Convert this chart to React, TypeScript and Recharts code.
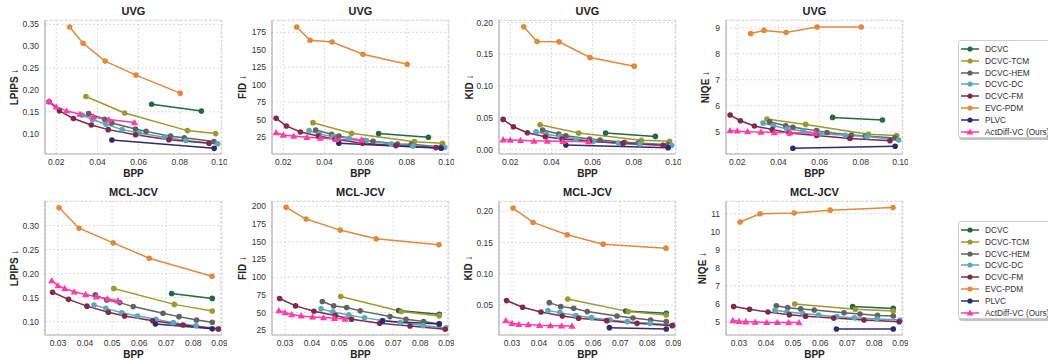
import { LineChart, Line, XAxis, YAxis, CartesianGrid } from "recharts"

const methods = ["DCVC", "DCVC-TCM", "DCVC-HEM", "DCVC-DC", "DCVC-FM", "EVC-PDM", "PLVC", "ActDiff-VC (Ours)"]
const colors = ["#23683f", "#9b9a30", "#626262", "#5ea6b9", "#7e2a4c", "#e08a3e", "#2f2b6b", "#ff3ca8"]

// bpp per method (same order as methods)
const uvgBpp = [
  [0.0663, 0.0905],
  [0.0344, 0.0532, 0.0837, 0.0974],
  [0.0357, 0.0435, 0.047, 0.0585, 0.0636, 0.0755, 0.0822, 0.0966],
  [0.0325, 0.0376, 0.0441, 0.052, 0.0603, 0.0725, 0.083, 0.0984],
  [0.0165, 0.0215, 0.0283, 0.037, 0.0452, 0.0585, 0.0747, 0.0942],
  [0.0265, 0.033, 0.0437, 0.0587, 0.0802],
  [0.047, 0.0967],
  [0.0165, 0.02, 0.025, 0.0315, 0.038, 0.0455, 0.058],
]
const mclBpp = [
  [0.072, 0.087],
  [0.0506, 0.073, 0.087],
  [0.0438, 0.048, 0.0528, 0.0578, 0.0688, 0.0747, 0.0812, 0.087],
  [0.0433, 0.0477, 0.0536, 0.0594, 0.0662, 0.0726, 0.081, 0.0896],
  [0.028, 0.0339, 0.0407, 0.0486, 0.0546, 0.065, 0.0762, 0.0892],
  [0.0304, 0.0378, 0.0504, 0.0637, 0.0869],
  [0.066, 0.087],
  [0.0277, 0.03, 0.0325, 0.036, 0.0402, 0.0442, 0.0483, 0.0522],
]

const uvgLpips = [
  [0.1674, 0.152],
  [0.185, 0.1475, 0.1071, 0.1002],
  [0.1463, 0.1331, 0.1245, 0.1107, 0.1053, 0.0944, 0.0907, 0.0822],
  [0.1424, 0.1324, 0.1215, 0.1093, 0.1014, 0.0921, 0.0845, 0.0769],
  [0.1731, 0.1523, 0.1347, 0.1199, 0.1093, 0.0977, 0.0861, 0.0782],
  [0.344, 0.3067, 0.266, 0.234, 0.1927],
  [0.0856, 0.0665],
  [0.1748, 0.1616, 0.1523, 0.1447, 0.1384, 0.1324, 0.1255],
]
const uvgFid = [
  [29.8, 24.5],
  [45.5, 30.3, 18.3, 15.9],
  [35, 28.8, 26.4, 19.7, 18.8, 15, 14.5, 10.7],
  [34.1, 28.8, 25.5, 23.1, 19.7, 15, 12.1, 10.2],
  [51.7, 40.8, 32.2, 26.4, 21.7, 16, 12.6, 9.7],
  [182.6, 163.5, 161.1, 143.5, 129.1],
  [16, 8.8],
  [31.2, 27.9, 26.4, 24.5, 23.6, 21.7, 20.7],
]
const uvgKid = [
  [0.0262, 0.0209],
  [0.0393, 0.0262, 0.0147, 0.0131],
  [0.0309, 0.0246, 0.022, 0.0168, 0.0152, 0.0115, 0.0105, 0.0079],
  [0.0283, 0.0241, 0.0209, 0.0168, 0.0131, 0.0105, 0.0089, 0.0068],
  [0.0476, 0.0361, 0.0267, 0.0204, 0.0168, 0.0131, 0.0099, 0.0068],
  [0.1932, 0.1702, 0.1696, 0.145, 0.1314],
  [0.0073, 0.0031],
  [0.0157, 0.0152, 0.0147, 0.0136, 0.0136, 0.0131, 0.0126],
]
const uvgNiqe = [
  [5.55, 5.45],
  [5.49, 5.28, 4.9, 4.85],
  [5.38, 5.23, 5.17, 5.04, 4.97, 4.87, 4.83, 4.76],
  [5.33, 5.23, 5.1, 5.03, 4.92, 4.86, 4.81, 4.68],
  [5.64, 5.42, 5.22, 5.08, 4.95, 4.85, 4.74, 4.65],
  [8.78, 8.9, 8.82, 9.03, 9.03],
  [4.36, 4.44],
  [5.04, 5.03, 5.0, 4.99, 4.97, 4.96, 4.95],
]

const mclLpips = [
  [0.1586, 0.1483],
  [0.169, 0.1359, 0.1221],
  [0.1556, 0.1451, 0.1396, 0.1313, 0.1174, 0.1104, 0.1035, 0.0986],
  [0.1345, 0.1276, 0.1186, 0.1117, 0.1048, 0.0979, 0.0917, 0.0848],
  [0.1612, 0.1464, 0.1322, 0.1194, 0.1118, 0.1018, 0.0931, 0.0848],
  [0.3368, 0.2944, 0.2639, 0.232, 0.1944],
  [0.0952, 0.0852],
  [0.1855, 0.1752, 0.169, 0.1621, 0.1566, 0.1517, 0.1476, 0.1434],
]
const mclFid = [
  [52.8, 47.6],
  [72.6, 51.4, 45.3],
  [65.6, 59.4, 57.1, 52.4, 44.3, 40.6, 37.3, 34],
  [55.2, 50.9, 46.7, 42.5, 38.7, 35.8, 31.6, 28.3],
  [69.8, 59.4, 51.9, 45.8, 40.6, 34.9, 31.1, 26.4],
  [198.6, 182.1, 166.5, 154.2, 145.8],
  [38.2, 34],
  [52.8, 50, 47.2, 45.3, 43.9, 42.9, 42, 41],
]
const mclKid = [
  [0.0404, 0.0366],
  [0.0596, 0.0393, 0.0339],
  [0.0537, 0.0473, 0.0446, 0.0393, 0.0323, 0.0291, 0.0259, 0.0232],
  [0.0409, 0.0377, 0.0329, 0.0296, 0.0259, 0.0232, 0.0205, 0.0179],
  [0.057, 0.0462, 0.0388, 0.0323, 0.0286, 0.0248, 0.0205, 0.0168],
  [0.2054, 0.1823, 0.1625, 0.1475, 0.1411],
  [0.0136, 0.0114],
  [0.0248, 0.0205, 0.0189, 0.0184, 0.0173, 0.0168, 0.0166, 0.0163],
]
const mclNiqe = [
  [5.84, 5.74],
  [5.98, 5.69, 5.59],
  [5.89, 5.78, 5.71, 5.65, 5.5, 5.43, 5.35, 5.32],
  [5.63, 5.54, 5.45, 5.37, 5.28, 5.22, 5.15, 5.09],
  [5.84, 5.69, 5.54, 5.39, 5.3, 5.2, 5.09, 5.0],
  [10.54, 11.0, 11.04, 11.2, 11.35],
  [4.59, 4.59],
  [5.07, 5.02, 5.0, 4.98, 4.96, 4.96, 4.95, 4.95],
]

const uvgXTicks = [0.02, 0.04, 0.06, 0.08, 0.1]
const mclXTicks = [0.03, 0.04, 0.05, 0.06, 0.07, 0.08, 0.09]
const uvgLpipsTicks = [0.1, 0.15, 0.2, 0.25, 0.3, 0.35]
const uvgFidTicks = [25, 50, 75, 100, 125, 150, 175]
const uvgKidTicks = [0, 0.05, 0.1, 0.15, 0.2]
const uvgNiqeTicks = [5, 6, 7, 8, 9]
const mclLpipsTicks = [0.1, 0.15, 0.2, 0.25, 0.3]
const mclFidTicks = [25, 50, 75, 100, 125, 150, 175, 200]
const mclKidTicks = [0.05, 0.1, 0.15, 0.2]
const mclNiqeTicks = [5, 6, 7, 8, 9, 10, 11]

const FONT = "'Liberation Sans', Arial, sans-serif"
const PW = 177
const PH = 134

type Panel = {
  left: number
  top: number
  title: string
  ylabel: string
  ylabelX: number
  xDomain: number[]
  xTicks: number[]
  yDomain: number[]
  yTicks: number[]
  digits: number
  bpp: number[][]
  vals: number[][]
}

const uvgX = [0.0145, 0.1005]
const mclX = [0.0252, 0.0906]

const panels: Panel[] = [
  { left: 45, top: 20, title: "UVG", ylabel: "LPIPS ↓", ylabelX: 15, xDomain: uvgX, xTicks: uvgXTicks, yDomain: [0.0536, 0.36], yTicks: uvgLpipsTicks, digits: 2, bpp: uvgBpp, vals: uvgLpips },
  { left: 272, top: 20, title: "UVG", ylabel: "FID ↓", ylabelX: 243, xDomain: uvgX, xTicks: uvgXTicks, yDomain: [0.6, 192.6], yTicks: uvgFidTicks, digits: 0, bpp: uvgBpp, vals: uvgFid },
  { left: 499, top: 20, title: "UVG", ylabel: "KID ↓", ylabelX: 470, xDomain: uvgX, xTicks: uvgXTicks, yDomain: [-0.0068, 0.204], yTicks: uvgKidTicks, digits: 2, bpp: uvgBpp, vals: uvgKid },
  { left: 726, top: 20, title: "UVG", ylabel: "NIQE ↓", ylabelX: 706, xDomain: uvgX, xTicks: uvgXTicks, yDomain: [4.14, 9.3], yTicks: uvgNiqeTicks, digits: 0, bpp: uvgBpp, vals: uvgNiqe },
  { left: 45, top: 201, title: "MCL-JCV", ylabel: "LPIPS ↓", ylabelX: 15, xDomain: mclX, xTicks: mclXTicks, yDomain: [0.0722, 0.351], yTicks: mclLpipsTicks, digits: 2, bpp: mclBpp, vals: mclLpips },
  { left: 272, top: 201, title: "MCL-JCV", ylabel: "FID ↓", ylabelX: 243, xDomain: mclX, xTicks: mclXTicks, yDomain: [18.3, 207.6], yTicks: mclFidTicks, digits: 0, bpp: mclBpp, vals: mclFid },
  { left: 499, top: 201, title: "MCL-JCV", ylabel: "KID ↓", ylabelX: 469, xDomain: mclX, xTicks: mclXTicks, yDomain: [0.0018, 0.2167], yTicks: mclKidTicks, digits: 2, bpp: mclBpp, vals: mclKid },
  { left: 726, top: 201, title: "MCL-JCV", ylabel: "NIQE ↓", ylabelX: 703, xDomain: mclX, xTicks: mclXTicks, yDomain: [4.26, 11.71], yTicks: mclNiqeTicks, digits: 0, bpp: mclBpp, vals: mclNiqe },
]

function Triangle(props: any) {
  const { cx, cy, fill, index } = props
  if (cx == null || cy == null) return <g key={index} />
  const s = 3.6
  return (
    <polygon
      key={index}
      points={`${cx},${cy - s} ${cx - s},${cy + s * 0.75} ${cx + s},${cy + s * 0.75}`}
      fill={fill}
    />
  )
}

function ChartPanel({ p }: { p: Panel }) {
  const yw = 40
  return (
    <div style={{ position: "absolute", left: p.left - yw, top: p.top - 5 }}>
      <LineChart width={PW + yw + 5} height={PH + 5 + 22} margin={{ top: 5, right: 5, bottom: 0, left: 0 }}>
        <CartesianGrid stroke="#d4d4d4" strokeDasharray="2 2" strokeWidth={0.8} />
        <XAxis
          type="number"
          dataKey="x"
          domain={p.xDomain}
          ticks={p.xTicks}
          allowDataOverflow
          height={22}
          tickLine={false}
          tickSize={3}
          tickMargin={2}
          axisLine={{ stroke: "#b0b0b0", strokeWidth: 1.2 }}
          tick={{ fontSize: 8.5, fill: "#333", fontFamily: FONT }}
          tickFormatter={(v: number) => v.toFixed(2)}
        />
        <YAxis
          type="number"
          dataKey="y"
          domain={p.yDomain}
          ticks={p.yTicks}
          allowDataOverflow
          width={yw}
          tickLine={false}
          tickSize={4}
          tickMargin={2}
          axisLine={{ stroke: "#b0b0b0", strokeWidth: 1.2 }}
          tick={{ fontSize: 8.5, fill: "#333", fontFamily: FONT }}
          tickFormatter={(v: number) => v.toFixed(p.digits)}
        />
        {methods.map((m, i) => {
          const data = p.bpp[i].map((x, j) => ({ x, y: p.vals[i][j] }))
          const isOurs = i === methods.length - 1
          return (
            <Line
              key={m}
              name={m}
              data={data}
              dataKey="y"
              stroke={colors[i]}
              strokeWidth={1.5}
              isAnimationActive={false}
              dot={isOurs ? (props: any) => <Triangle {...props} fill={colors[i]} /> : { r: 2.8, fill: colors[i], stroke: colors[i], strokeWidth: 0 }}
              activeDot={false}
            />
          )
        })}
      </LineChart>
      <div
        style={{
          position: "absolute",
          left: yw,
          top: 5,
          width: PW,
          height: PH,
          borderTop: "1px dashed #dcdcdc",
          borderRight: "1px dashed #dcdcdc",
          boxSizing: "border-box",
          pointerEvents: "none",
        }}
      />
    </div>
  )
}

function Texts({ p }: { p: Panel }) {
  const cx = p.left + PW / 2
  const cy = p.top + PH / 2
  return (
    <>
      <div style={{ position: "absolute", left: cx - 60, width: 120, top: p.top - 15, textAlign: "center", fontWeight: "bold", fontSize: 11, color: "#222", fontFamily: FONT, lineHeight: "12px" }}>
        {p.title}
      </div>
      <div style={{ position: "absolute", left: cx - 30, width: 60, top: p.top + PH + 14, textAlign: "center", fontWeight: "bold", fontSize: 10, color: "#222", fontFamily: FONT, lineHeight: "11px" }}>
        BPP
      </div>
      <div
        style={{
          position: "absolute",
          left: p.ylabelX - 40,
          width: 80,
          top: cy - 6,
          textAlign: "center",
          fontWeight: "bold",
          fontSize: 10,
          color: "#222",
          fontFamily: FONT,
          lineHeight: "12px",
          transform: "rotate(-90deg)",
          whiteSpace: "nowrap",
        }}
      >
        {p.ylabel}
      </div>
    </>
  )
}

function LegendBox({ top }: { top: number }) {
  return (
    <div
      style={{
        position: "absolute",
        left: 958,
        top,
        width: 100,
        height: 96,
        border: "1px solid #cfcfcf",
        borderRadius: 3,
        background: "#fff",
        boxShadow: "1px 2px 1px rgba(0,0,0,0.25)",
        fontFamily: FONT,
      }}
    >
      {methods.map((m, i) => (
        <div key={m} style={{ position: "absolute", left: 0, top: 2 + i * 11.8, height: 12, display: "flex", alignItems: "center" }}>
          <svg width={24} height={12} style={{ display: "block" }}>
            <line x1={2} x2={20} y1={6} y2={6} stroke={colors[i]} strokeWidth={1.5} />
            {i === methods.length - 1 ? (
              <polygon points="11,2.6 7.6,8.6 14.4,8.6" fill={colors[i]} />
            ) : (
              <circle cx={11} cy={6} r={2.6} fill={colors[i]} />
            )}
          </svg>
          <span style={{ fontSize: 8.3, color: "#333", marginLeft: 2, whiteSpace: "nowrap" }}>{m}</span>
        </div>
      ))}
    </div>
  )
}

export default function App() {
  return (
    <div style={{ position: "absolute", left: 0, top: 0, width: 1048, height: 360, background: "#fff", overflow: "hidden" }}>
      {panels.map((p, i) => (
        <ChartPanel key={i} p={p} />
      ))}
      {panels.map((p, i) => (
        <Texts key={"t" + i} p={p} />
      ))}
      <LegendBox top={40} />
      <LegendBox top={221} />
    </div>
  )
}
